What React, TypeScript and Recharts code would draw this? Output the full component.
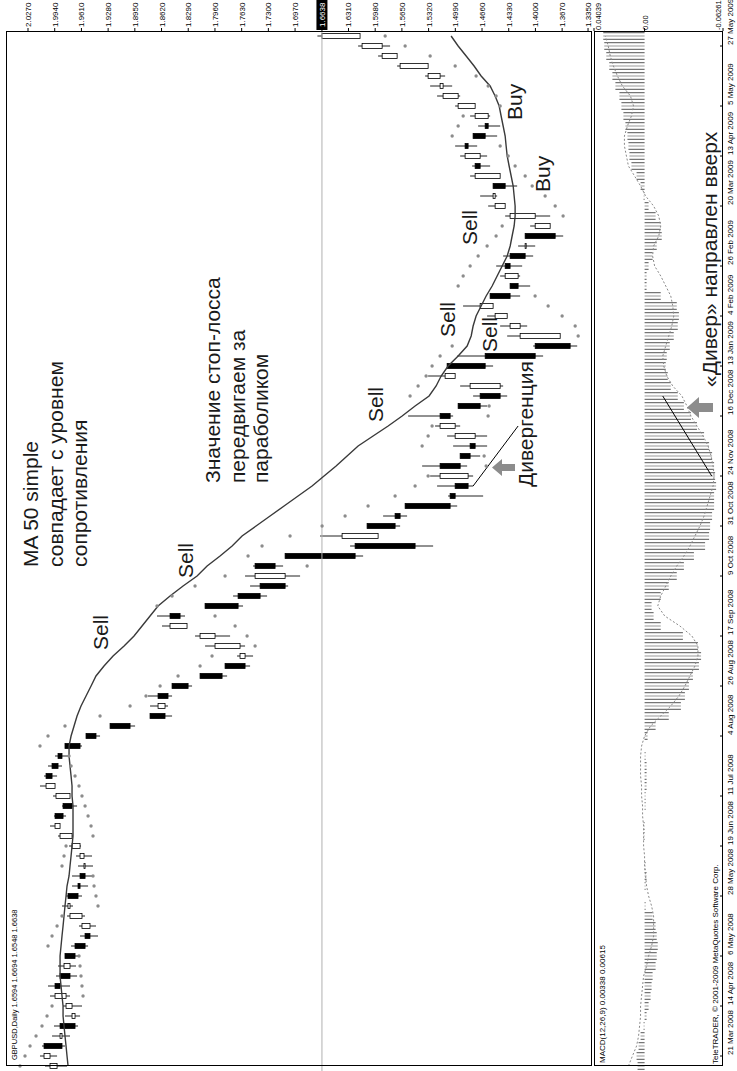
import React from 'react';
import { ComposedChart, Bar, Line, XAxis, YAxis, ReferenceLine } from 'recharts';

// GBPUSD, Daily — each entry covers about 3 trading days (21 Mar 2008 … 28 May 2009)
const high = [
  2.006, 2.0122, 2.0097, 1.9973, 1.9949, 1.9813, 1.9837, 1.9998, 2.0023, 1.9924,
  1.9899, 1.9813, 1.9738, 1.9627, 1.964, 1.9788, 1.985, 1.98, 1.9726, 1.9726,
  1.9652, 1.9677, 1.9763, 1.9899, 1.9998, 1.9949, 1.985, 1.9961, 2.0122, 2.0072,
  2.0023, 1.9936, 1.9813, 1.9553, 1.9256, 1.8762, 1.8762, 1.8787, 1.849, 1.8144,
  1.7835, 1.7687, 1.8082, 1.8206, 1.8614, 1.8676, 1.8082, 1.7736, 1.7526, 1.7588,
  1.7489, 1.7093, 1.629, 1.6661, 1.608, 1.5882, 1.561, 1.5079, 1.5215, 1.5301,
  1.54, 1.493, 1.5017, 1.5091, 1.524, 1.5573, 1.4955, 1.477, 1.493, 1.5326,
  1.5091, 1.4967, 1.4028, 1.4349, 1.4436, 1.4597, 1.4894, 1.456, 1.4313, 1.4436,
  1.4485, 1.4399, 1.4214, 1.4127, 1.4065, 1.4374, 1.4584, 1.4683, 1.4523, 1.4807,
  1.4782, 1.493, 1.4992, 1.477, 1.4708, 1.4807, 1.4992, 1.5215, 1.5301, 1.5363,
  1.5709, 1.5944, 1.6191, 1.6694,
];
const low = [
  1.9788, 1.9911, 1.9813, 1.9751, 1.9652, 1.9627, 1.9603, 1.9751, 1.9751, 1.9664,
  1.9677, 1.9652, 1.9528, 1.9405, 1.943, 1.9566, 1.9714, 1.9603, 1.9528, 1.9479,
  1.9467, 1.9479, 1.9615, 1.9714, 1.9874, 1.98, 1.9664, 1.9751, 1.9936, 1.9911,
  1.985, 1.9776, 1.9603, 1.938, 1.8947, 1.849, 1.854, 1.849, 1.8243, 1.781,
  1.7526, 1.7489, 1.7588, 1.7773, 1.8305, 1.833, 1.7613, 1.7316, 1.7056, 1.6908,
  1.7118, 1.6129, 1.5264, 1.5944, 1.5672, 1.5586, 1.4967, 1.4646, 1.477, 1.477,
  1.4844, 1.4683, 1.4597, 1.4597, 1.493, 1.5017, 1.4597, 1.4349, 1.4399, 1.4992,
  1.4523, 1.3905, 1.3484, 1.3694, 1.4102, 1.4349, 1.4523, 1.4189, 1.4065, 1.4189,
  1.4164, 1.4028, 1.4003, 1.3657, 1.3818, 1.3818, 1.4374, 1.4473, 1.4226, 1.4436,
  1.456, 1.4597, 1.472, 1.4473, 1.4436, 1.456, 1.4745, 1.493, 1.5029, 1.5116,
  1.5326, 1.5709, 1.5796, 1.6167,
];
const close = [
  1.9998, 2.0072, 1.985, 1.9874, 1.9689, 1.9726, 1.98, 1.9936, 1.9874, 1.9751,
  1.9825, 1.9689, 1.9565, 1.9504, 1.9603, 1.9751, 1.9776, 1.9652, 1.9627, 1.9565,
  1.9578, 1.9627, 1.9726, 1.9874, 1.9936, 1.9837, 1.9726, 1.9924, 2.0047, 1.9973,
  1.9899, 1.985, 1.9627, 1.943, 1.9009, 1.8577, 1.8663, 1.854, 1.8292, 1.7872,
  1.7588, 1.765, 1.7959, 1.8144, 1.8515, 1.8391, 1.7674, 1.7402, 1.7093, 1.7464,
  1.7217, 1.6228, 1.5487, 1.6389, 1.5734, 1.5672, 1.5054, 1.4992, 1.4832, 1.5178,
  1.493, 1.4807, 1.4745, 1.4992, 1.5178, 1.5054, 1.4683, 1.4436, 1.4807, 1.5116,
  1.4621, 1.4003, 1.3571, 1.4189, 1.4313, 1.4498, 1.4683, 1.4313, 1.4214, 1.4374,
  1.4313, 1.4127, 1.4127, 1.3756, 1.4003, 1.4313, 1.4498, 1.4523, 1.4374, 1.4745,
  1.4683, 1.4869, 1.4832, 1.4621, 1.4584, 1.4745, 1.4955, 1.5141, 1.5178, 1.5326,
  1.5672, 1.5894, 1.6142, 1.6638,
];
const firstOpen = 1.9911;

// MA 50 simple
const ma50 = [
  1.9775, 1.9788, 1.98, 1.9813, 1.9825, 1.9837, 1.9837, 1.985, 1.9862, 1.9874,
  1.9874, 1.9874, 1.9862, 1.985, 1.9837, 1.9825, 1.9813, 1.98, 1.9788, 1.9763,
  1.9751, 1.9738, 1.9726, 1.9714, 1.9714, 1.9714, 1.9714, 1.9726, 1.9726, 1.9738,
  1.9751, 1.9763, 1.9763, 1.9738, 1.9701, 1.9664, 1.9615, 1.9553, 1.9491, 1.943,
  1.9331, 1.9219, 1.9083, 1.896, 1.8861, 1.8762, 1.8663, 1.8515, 1.8354, 1.8181,
  1.8057, 1.7897, 1.7748, 1.7625, 1.7452, 1.7279, 1.7106, 1.6933, 1.676, 1.6612,
  1.6463, 1.6327, 1.6191, 1.6006, 1.582, 1.5647, 1.5487, 1.5314, 1.5227, 1.5165,
  1.5079, 1.4955, 1.4844, 1.4794, 1.477, 1.4733, 1.4671, 1.4609, 1.4535, 1.4473,
  1.4411, 1.4349, 1.4312, 1.4288, 1.4263, 1.4251, 1.4251, 1.4263, 1.4275, 1.43,
  1.4325, 1.4349, 1.4362, 1.4374, 1.4399, 1.4424, 1.4448, 1.4498, 1.456, 1.4671,
  1.4758, 1.4856, 1.4955, 1.5042,
];

// Parabolic SAR
const sar = [
  2.0369, 2.0307, 2.0245, 2.0171, 2.0097, 2.0035, 1.9973, 1.959, 1.9603, 1.9615,
  1.9627, 1.964, 2.0023, 1.9973, 1.9911, 1.985, 1.9405, 1.943, 1.9454, 1.9467,
  1.985, 1.9825, 1.98, 1.9467, 1.9491, 1.9528, 1.9565, 1.9603, 1.964, 1.9689,
  1.9738, 1.9763, 2.0122, 2.0023, 1.9813, 1.938, 1.9009, 1.8812, 1.8638, 1.8416,
  1.8144, 1.7996, 1.7464, 1.7563, 1.7711, 1.7959, 1.8676, 1.849, 1.8206, 1.7835,
  1.6821, 1.7551, 1.7378, 1.7032, 1.6636, 1.6352, 1.6068, 1.5734, 1.5487, 1.5326,
  1.4609, 1.4634, 1.54, 1.5326, 1.5277, 1.4585, 1.4572, 1.5549, 1.545, 1.5351,
  1.5277, 1.5178, 1.5029, 1.3472, 1.3509, 1.367, 1.3843, 1.4004, 1.4955, 1.4893,
  1.4807, 1.4708, 1.4597, 1.4486, 1.4411, 1.3658, 1.3756, 1.388, 1.404, 1.4127,
  1.4251, 1.4337, 1.4436, 1.5029, 1.4955, 1.4893, 1.4436, 1.4486, 1.4584, 1.4733,
  1.4992, 1.5301, 1.561, 1.5857,
];

// MACD(12,26,9)
const macdMain = [
  0.0056, 0.0064, 0.0048, 0.0032, 0.0008, -0.0016, -0.0032, -0.0048, -0.0056, -0.0064,
  -0.0088, -0.0097, -0.0105, -0.0097, -0.0088, -0.0064, -0.0008, 0.0, -0.0008, -0.0016,
  -0.0008, 0.0, 0.0, 0.0008, 0.0008, 0.0, -0.0008, -0.0008, -0.0016, -0.0016,
  -0.0016, -0.0008, 0.0, -0.0024, -0.0088, -0.0193, -0.029, -0.0322, -0.0354, -0.0386,
  -0.0434, -0.0451, -0.0426, -0.0306, -0.0129, -0.0072, -0.0056, -0.0129, -0.0193, -0.0257,
  -0.0314, -0.0394, -0.0483, -0.0515, -0.0523, -0.0539, -0.0555, -0.0555, -0.0571, -0.0563,
  -0.0555, -0.0539, -0.0515, -0.0475, -0.0418, -0.037, -0.0314, -0.0265, -0.0209, -0.0185,
  -0.0169, -0.0177, -0.0201, -0.0233, -0.0265, -0.0274, -0.0257, -0.0129, -0.0016, -0.0016,
  -0.0032, -0.0064, -0.0097, -0.0137, -0.0129, -0.0088, -0.0032, 0.0008, 0.0032, 0.0064,
  0.0105, 0.0121, 0.0129, 0.0137, 0.0153, 0.0169, 0.0185, 0.0201, 0.0233, 0.0257,
  0.0282, 0.0306, 0.0322, 0.033,
];
const macdSignal = [
  0.0129, 0.0097, 0.0064, 0.0048, 0.004, 0.0032, 0.0032, 0.0024, 0.0016, 0.0008,
  -0.0016, -0.0032, -0.0056, -0.0072, -0.0072, -0.0072, -0.0056, -0.0032, -0.0016, -0.0008,
  0.0, 0.0, 0.0008, 0.0008, 0.0008, 0.0016, 0.0016, 0.0024, 0.0024, 0.0032,
  0.0032, 0.0032, 0.0024, 0.0, -0.0048, -0.0129, -0.0209, -0.0274, -0.0322, -0.0362,
  -0.0402, -0.0426, -0.0426, -0.0378, -0.0282, -0.0161, -0.0105, -0.0129, -0.0169, -0.0209,
  -0.0257, -0.0314, -0.0362, -0.0402, -0.0442, -0.0475, -0.0499, -0.0523, -0.0547, -0.0555,
  -0.0547, -0.0531, -0.0507, -0.0467, -0.0418, -0.037, -0.0338, -0.0298, -0.0225, -0.0177,
  -0.0153, -0.0145, -0.0169, -0.0193, -0.0217, -0.0233, -0.0225, -0.0209, -0.0169, -0.0129,
  -0.008, -0.0064, -0.0072, -0.0113, -0.0129, -0.0113, -0.0072, -0.0008, 0.0032, 0.008,
  0.0129, 0.0145, 0.0161, 0.0161, 0.0137, 0.0105, 0.0088, 0.0113, 0.0177, 0.0217,
  0.0249, 0.0274, 0.029, 0.0314,
];

const dateLabels = [
  '21 Mar 2008', '14 Apr 2008', '6 May 2008', '28 May 2008', '19 Jun 2008',
  '11 Jul 2008', '4 Aug 2008', '26 Aug 2008', '17 Sep 2008', '9 Oct 2008',
  '31 Oct 2008', '24 Nov 2008', '16 Dec 2008', '13 Jan 2009', '4 Feb 2009',
  '26 Feb 2009', '20 Mar 2009', '13 Apr 2009', '5 May 2009', '27 May 2009',
];
const dateIdx = [1, 6, 11, 17, 22, 27, 33, 38, 43, 49, 54, 59, 65, 70, 75, 80, 86, 91, 96, 102];

const priceTicks = [
  2.027, 1.994, 1.961, 1.928, 1.895, 1.862, 1.829, 1.796, 1.763, 1.73, 1.697,
  1.631, 1.598, 1.565, 1.532, 1.499, 1.466, 1.433, 1.4, 1.367, 1.335,
];
const macdTicks = [0.04039, 0, -0.06261];

const lastClose = close[close.length - 1];

const rows = high.map((h, i) => {
  const o = i === 0 ? firstOpen : close[i - 1];
  return {
    i,
    high: h,
    low: low[i],
    close: close[i],
    open: Math.min(h, Math.max(low[i], o)),
    range: [low[i], h],
    ma: ma50[i],
    sar: sar[i],
    macd: macdMain[i],
    signal: macdSignal[i],
  };
});

const FONT = '"Liberation Sans", Arial, sans-serif';

function Candle(props: any) {
  const { x, y, width, height, payload } = props;
  if (x == null || y == null || !payload) return <g />;
  const top = Math.min(y, y + height);
  const span = Math.abs(height);
  const cx = x + width / 2;
  const pr = payload.high - payload.low || 1;
  const toY = (p: number) => top + ((payload.high - p) / pr) * span;
  const yo = toY(payload.open);
  const yc = toY(payload.close);
  const bull = payload.close >= payload.open;
  return (
    <g>
      <line x1={cx} x2={cx} y1={top} y2={top + span} stroke="#222" strokeWidth={1} />
      <rect
        x={cx - 2.5}
        y={Math.min(yo, yc)}
        width={5}
        height={Math.max(Math.abs(yc - yo), 1)}
        fill={bull ? '#fff' : '#000'}
        stroke="#000"
        strokeWidth={0.8}
      />
    </g>
  );
}

// histogram bar drawn as thin hairlines, like the terminal does
function Hatch(props: any) {
  const { x, y, width, height } = props;
  if (x == null || y == null || !height) return <g />;
  const top = Math.min(y, y + height);
  const h = Math.abs(height);
  const cx = x + width / 2;
  return (
    <g>
      {[-3.3, 0, 3.3].map((d, k) => (
        <rect key={k} x={cx + d - 0.5} y={top} width={1} height={h} fill={k === 1 ? '#9a9a9a' : '#555'} />
      ))}
    </g>
  );
}

function PriceTick(props: any) {
  const { x, y, payload } = props;
  const v = payload.value;
  if (v === lastClose) {
    return (
      <g>
        <rect x={x - 4} y={y - 5.5} width={30} height={11} fill="#000" />
        <text x={x - 1} y={y + 3} fontSize={8} fontFamily={FONT} fill="#fff">{v.toFixed(4)}</text>
      </g>
    );
  }
  return (
    <text x={x - 1} y={y + 3} fontSize={8} fontFamily={FONT} fill="#000">{v.toFixed(4)}</text>
  );
}

function MacdTick(props: any) {
  const { x, y, payload } = props;
  const v = payload.value;
  const dy = v > 0 ? 7 : v < 0 ? -2 : 3;
  return (
    <text x={x - 4} y={y + dy} fontSize={7.5} fontFamily={FONT} fill="#000">
      {v === 0 ? '0.00' : v.toFixed(5)}
    </text>
  );
}

function DateTick(props: any) {
  const { x, y, payload } = props;
  const k = dateIdx.indexOf(payload.value);
  if (k < 0) return <g />;
  return (
    <g>
      <line x1={x} x2={x} y1={y - 3} y2={y} stroke="#000" />
      <text x={x + 1} y={y + 10} fontSize={8} fontFamily={FONT} fill="#000">{dateLabels[k]}</text>
    </g>
  );
}

const big = { fontSize: 21, fontFamily: FONT, fill: '#1a1a1a' };
const small = { fontSize: 8, fontFamily: FONT, fill: '#000' };

export default function App() {
  return (
    <div style={{ position: 'absolute', left: 0, top: 0, width: 737, height: 1071, overflow: 'hidden', background: '#fff' }}>
      <div
        style={{
          position: 'absolute',
          left: 0,
          top: 0,
          width: 1071,
          height: 737,
          transformOrigin: '0 0',
          transform: 'translateY(1071px) rotate(-90deg)',
        }}
      >
        <div style={{ position: 'absolute', left: 0, top: 0 }}>
          <ComposedChart width={1071} height={596} data={rows} margin={{ top: 6, right: 0, bottom: 4, left: 0 }}>
            <XAxis dataKey="i" hide />
            <YAxis
              orientation="right"
              width={31}
              domain={[1.3301, 2.0542]}
              allowDataOverflow
              ticks={[...priceTicks, lastClose]}
              interval={0}
              tick={PriceTick}
              tickSize={3}
              tickMargin={2}
              axisLine={false}
              tickLine={{ stroke: '#000' }}
            />
            <ReferenceLine y={lastClose} stroke="#b0b0b0" strokeWidth={1} />
            <Bar dataKey="range" barSize={6} shape={(p: any) => <Candle {...p} />} isAnimationActive={false} />
            <Line dataKey="ma" stroke="#3a3a3a" strokeWidth={1.4} dot={false} activeDot={false} isAnimationActive={false} />
            <Line
              dataKey="sar"
              stroke="none"
              dot={{ r: 1.7, fill: '#8c8c8c', stroke: 'none' }}
              activeDot={false}
              isAnimationActive={false}
            />
            <ReferenceLine
              segment={[{ x: 58, y: 1.477 }, { x: 64, y: 1.4214 }]}
              stroke="#000"
              strokeWidth={1}
            />
          </ComposedChart>
        </div>
        <div style={{ position: 'absolute', left: 0, top: 592 }}>
          <ComposedChart width={1071} height={145} data={rows} margin={{ top: 2, right: 0, bottom: 0, left: 0 }}>
            <XAxis
              dataKey="i"
              height={14}
              interval={0}
              tick={DateTick}
              tickLine={false}
              axisLine={false}
              tickSize={0}
              tickMargin={0}
            />
            <YAxis
              orientation="right"
              width={31}
              domain={[-0.06261, 0.04039]}
              allowDataOverflow
              ticks={macdTicks}
              interval={0}
              tick={MacdTick}
              tickSize={3}
              tickMargin={2}
              axisLine={false}
              tickLine={{ stroke: '#000' }}
            />
            <Bar dataKey="macd" barSize={8} shape={(p: any) => <Hatch {...p} />} isAnimationActive={false} />
            <Line
              dataKey="signal"
              stroke="#8a8a8a"
              strokeWidth={1}
              strokeDasharray="2 2"
              dot={false}
              activeDot={false}
              isAnimationActive={false}
            />
            <ReferenceLine
              segment={[{ x: 59, y: -0.0536 }, { x: 67, y: -0.0145 }]}
              stroke="#000"
              strokeWidth={1}
            />
          </ComposedChart>
        </div>
        <svg
          width={1071}
          height={737}
          style={{ position: 'absolute', left: 0, top: 0, pointerEvents: 'none' }}
        >
          <rect x={5.5} y={6.5} width={1034} height={585} fill="none" stroke="#000" />
          <rect x={5.5} y={594.5} width={1034} height={128} fill="none" stroke="#000" />

          <text x={11} y={17} {...small} fontSize={7.5}>GBPUSD,Daily  1.6594 1.6694 1.6548 1.6638</text>
          <text x={8} y={605} {...small}>MACD(12,26,9) 0.00338 0.00615</text>
          <text x={7} y={718} {...small}>TeleTRADER, © 2001-2009 MetaQuotes Software Corp.</text>

          <text x={504} y={38} {...big}>MA 50 simple</text>
          <text x={504} y={63} {...big}>совпадает с уровнем</text>
          <text x={504} y={87} {...big}>сопротивления</text>

          <text x={588} y={220} {...big}>Значение стоп-лосса</text>
          <text x={588} y={245} {...big}>передвигаем за</text>
          <text x={588} y={268} {...big}>параболиком</text>

          <text x={421} y={108} {...big}>Sell</text>
          <text x={493} y={193} {...big}>Sell</text>
          <text x={649} y={383} {...big}>Sell</text>
          <text x={734} y={455} {...big}>Sell</text>
          <text x={719} y={497} {...big}>Sell</text>
          <text x={826} y={477} {...big}>Sell</text>
          <text x={951} y={522} {...big}>Buy</text>
          <text x={879} y={550} {...big}>Buy</text>

          <text x={584} y={533} {...big}>Дивергенция</text>
          <polygon
            points="603.5,492 612,502 607,502 607,515 600,515 600,502 595,502"
            fill="#8c8c8c"
          />

          <text x={684} y={717} {...big}>«Дивер» направлен вверх</text>
          <polygon
            points="663.5,687 674,699 668,699 668,713 659,713 659,699 653,699"
            fill="#8c8c8c"
          />
        </svg>
      </div>
    </div>
  );
}
